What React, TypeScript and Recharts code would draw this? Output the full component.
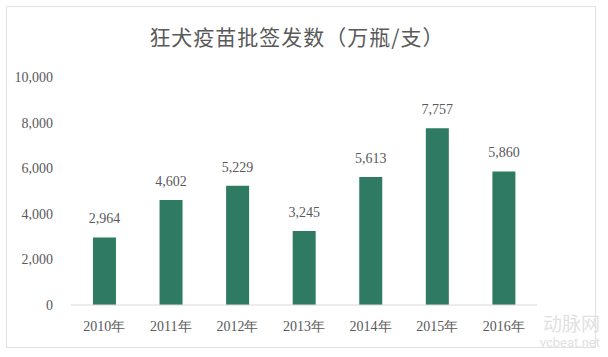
import React from 'react';
import { BarChart, Bar, XAxis, YAxis, LabelList } from 'recharts';

const years = ['2010年', '2011年', '2012年', '2013年', '2014年', '2015年', '2016年'];
const batches = [2964, 4602, 5229, 3245, 5613, 7757, 5860];
const yTicks = [0, 2000, 4000, 6000, 8000, 10000];

const chartData = years.map((year, i) => ({ year, value: batches[i] }));

const fmt = (v: number) => v.toLocaleString('en-US');
const serif = '"Liberation Serif", "DejaVu Serif", serif';

export default function App() {
  React.useEffect(() => {
    document.body.style.margin = '0';
  }, []);

  return (
    <div style={{ position: 'relative', width: 608, height: 357, background: '#ffffff', overflow: 'hidden' }}>
      {/* outer frame */}
      <div
        style={{
          position: 'absolute',
          left: 6,
          top: 6,
          width: 590,
          height: 342,
          border: '1px solid #e2e2e2',
          boxSizing: 'border-box',
        }}
      />
      <div
        style={{
          position: 'absolute',
          top: 21,
          left: 0,
          width: 594,
          textAlign: 'center',
          fontFamily: '"Noto Sans CJK SC", sans-serif',
          fontSize: 21,
          color: '#595959',
          letterSpacing: 1,
        }}
      >
        狂犬疫苗批签发数（万瓶/支）
      </div>
      <div style={{ position: 'absolute', left: 0, top: 0 }}>
        <BarChart
          width={608}
          height={357}
          data={chartData}
          margin={{ top: 77, right: 71, left: 16, bottom: 22 }}
          barCategoryGap="33%"
        >
          <XAxis
            dataKey="year"
            tickLine={false}
            axisLine={{ stroke: '#d9d9d9' }}
            tick={{ fill: '#595959', fontSize: 14, fontFamily: serif }}
            tickMargin={10}
          />
          <YAxis
            width={55}
            domain={[0, 10000]}
            ticks={yTicks}
            tickFormatter={fmt}
            tickLine={false}
            axisLine={false}
            tickMargin={12}
            tick={{ fill: '#595959', fontSize: 14, fontFamily: serif }}
          />
          <Bar dataKey="value" fill="#2f7a62" isAnimationActive={false}>
            <LabelList
              dataKey="value"
              position="top"
              offset={14}
              formatter={(v: number) => fmt(v)}
              style={{ fill: '#595959', fontSize: 14, fontFamily: serif }}
            />
          </Bar>
        </BarChart>
      </div>
      {/* watermark */}
      <div
        style={{
          position: 'absolute',
          left: 520,
          top: 311,
          width: 80,
          textAlign: 'right',
          fontFamily: '"Noto Sans CJK SC", sans-serif',
          color: '#dcdcdc',
          opacity: 0.85,
        }}
      >
        <div style={{ fontSize: 19, lineHeight: '24px' }}>动脉网</div>
        <div style={{ fontFamily: 'Roboto, sans-serif', fontSize: 13, lineHeight: '15px' }}>vcbeat.net</div>
      </div>
    </div>
  );
}
